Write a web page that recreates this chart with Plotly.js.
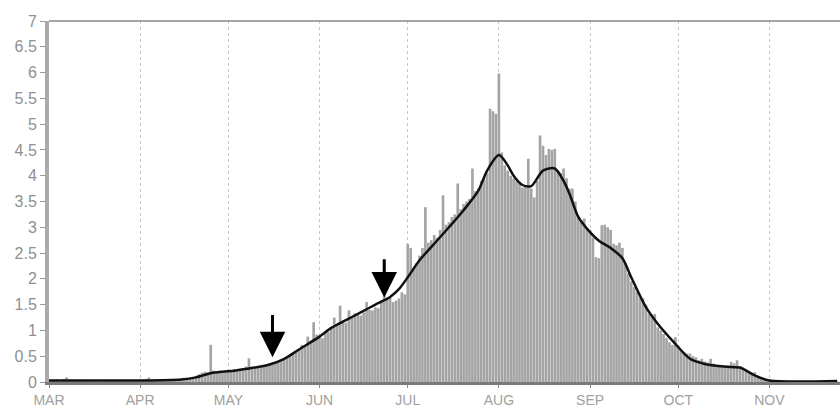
<!DOCTYPE html>
<html>
<head>
<meta charset="utf-8">
<script src="https://cdn.plot.ly/plotly-3.0.1.min.js"></script>
<style>html,body{margin:0;padding:0;background:#fff;}#chart{width:840px;height:409px;}</style>
</head>
<body>
<div id="chart"></div>
<script>
// Daily values per month (year assumed non-leap)
const YEAR = 2001;
const mar = [0.03,0.04,0.03,0.05,0.04,0.06,0.09,0.05,0.04,0.03,0.03,0.02,0.03,0.02,0.03,0.02,0.02,0.03,0.02,0.02,0.03,0.02,0.02,0.02,0.03,0.02,0.02,0.03,0.04,0.03,0.04];
const apr = [0.04,0.05,0.06,0.09,0.05,0.04,0.05,0.04,0.05,0.04,0.05,0.06,0.05,0.04,0.05,0.06,0.05,0.07,0.09,0.12,0.15,0.18,0.2,0.19,0.72,0.22,0.2,0.22,0.21,0.23];
const may = [0.24,0.22,0.25,0.23,0.26,0.24,0.3,0.46,0.27,0.28,0.3,0.29,0.32,0.33,0.34,0.36,0.38,0.4,0.42,0.46,0.48,0.52,0.55,0.6,0.64,0.72,0.7,0.88,0.8,1.16,0.92];
const jun = [0.9,0.85,0.95,0.97,1.05,1.25,1.12,1.48,1.2,1.15,1.39,1.25,1.33,1.3,1.29,1.35,1.55,1.4,1.39,1.45,1.43,1.58,2.35,1.6,1.64,1.55,1.58,1.62,1.74,1.7];
const jul = [2.68,2.6,2.2,2.3,2.45,2.6,3.39,2.7,2.75,2.85,2.8,2.95,3.62,3.05,3.1,3.2,3.25,3.85,3.35,3.45,3.5,3.55,4.14,3.7,3.75,3.9,3.95,4.05,5.3,5.25,5.2];
const aug = [5.98,4.45,4.2,4.1,4.0,3.95,3.9,3.85,3.77,3.8,4.33,3.75,3.58,3.9,4.78,4.58,4.4,4.52,4.5,4.52,4.1,4.05,4.14,3.95,3.75,3.75,3.5,3.2,3.1,3.17,2.97];
const sep = [2.95,2.8,2.42,2.4,3.04,3.05,3.0,2.95,2.68,2.65,2.7,2.6,2.3,2.1,1.95,1.84,1.75,1.64,1.62,1.5,1.32,1.3,1.32,1.06,1.0,0.93,0.85,0.77,0.72,0.87];
const oct = [0.7,0.62,0.58,0.55,0.55,0.5,0.48,0.42,0.45,0.4,0.38,0.45,0.36,0.33,0.3,0.29,0.3,0.32,0.39,0.36,0.42,0.3,0.28,0.23,0.2,0.18,0.19,0.12,0.1,0.06,0.05];
const nov = [0.03,0.02,0.02,0.02,0.01,0.02,0.02,0.01,0.02,0.02,0.01,0.02,0.02,0.01,0.02,0.02,0.01,0.02,0.02,0.01,0.02,0.02,0.01,0.02];

// Smoothed curve, points
const smoothDates = ["03-01","03-15","04-01","04-15","04-20","04-25","04-29","05-03","05-08","05-15","05-20","05-25","06-01","06-05","06-10","06-15","06-20","06-25","06-28","07-01","07-05","07-10","07-15","07-20","07-25","07-28","08-01","08-04","08-06","08-09","08-12","08-16","08-20","08-23","08-25","08-28","08-31","09-04","09-08","09-12","09-15","09-20","09-24","09-30","10-05","10-10","10-19","10-22","10-27","11-01","11-24"];
const smoothVals  = [0.03,0.03,0.03,0.05,0.09,0.17,0.2,0.22,0.26,0.34,0.45,0.63,0.88,1.05,1.2,1.35,1.5,1.65,1.8,2.03,2.36,2.68,3.0,3.33,3.71,4.1,4.4,4.2,4.0,3.82,3.8,4.1,4.14,3.9,3.65,3.2,2.97,2.74,2.6,2.4,2.03,1.45,1.13,0.74,0.45,0.35,0.29,0.28,0.13,0.03,0.02];

// Arrows: [date, tail value, tip value]
const arrowDates = ["05-16","06-23"];
const arrowTail  = [1.33, 2.41];
const arrowTip   = [0.48, 1.64];

const monthLabels = ["MAR","APR","MAY","JUN","JUL","AUG","SEP","OCT","NOV"];
const monthNums   = ["03","04","05","06","07","08","09","10","11"];

const months = [mar,apr,may,jun,jul,aug,sep,oct,nov];
const pad = n => (n<10?"0":"")+n;
const bx = [], by = [];
months.forEach((arr,mi)=>{
  arr.forEach((v,di)=>{ bx.push(YEAR+"-"+monthNums[mi]+"-"+pad(di+1)); by.push(v); });
});

const traces = [
  {type:"bar", x:bx, y:by, marker:{color:"#a4a4a4", line:{width:0}}, hoverinfo:"x+y"},
  {type:"scatter", mode:"lines", x:smoothDates.map(d=>YEAR+"-"+d), y:smoothVals,
   line:{color:"#111", width:2.5, shape:"spline", smoothing:0.8}}
];

const annotations = arrowDates.map((d,i)=>({
  x: YEAR+"-"+d, y: arrowTip[i], ax: YEAR+"-"+d, ay: arrowTail[i],
  xref:"x", yref:"y", axref:"x", ayref:"y",
  text:"", showarrow:true, arrowhead:2, arrowsize:1.7, arrowwidth:3,
  arrowcolor:"#000", standoff:0, startstandoff:0
}));

const layout = {
  width:840, height:409,
  margin:{l:49, r:0, t:21, b:27, pad:0},
  paper_bgcolor:"#fff", plot_bgcolor:"#fff",
  showlegend:false, bargap:0.1,
  font:{family:"Liberation Sans, Arial, sans-serif", color:"#8c8c8c", size:16},
  xaxis:{
    type:"date", range:[YEAR+"-03-01", YEAR+"-11-25"],
    tickvals: monthNums.map(m=>YEAR+"-"+m+"-01"), ticktext: monthLabels,
    showgrid:true, gridcolor:"#c8c8c8", griddash:"dot", gridwidth:1,
    ticks:"outside", ticklen:3, tickcolor:"#888", tickwidth:1,
    showline:true, linecolor:"#7a7a7a", linewidth:3,
    zeroline:false, tickfont:{size:14, color:"#a0a0a0"}
  },
  yaxis:{
    range:[0,7], dtick:0.5, tick0:0, showgrid:false, zeroline:false,
    ticks:"outside", ticklen:5, tickcolor:"#999", tickwidth:1,
    showline:true, linecolor:"#aaaaaa", linewidth:4,
    tickfont:{size:16, color:"#909090"}
  },
  shapes:[{type:"line", xref:"paper", yref:"paper", x0:0, x1:1, y0:1, y1:1, line:{color:"#888", width:1.5}}],
  annotations: annotations
};

Plotly.newPlot("chart", traces, layout, {staticPlot:true, displayModeBar:false});
</script>
</body>
</html>
